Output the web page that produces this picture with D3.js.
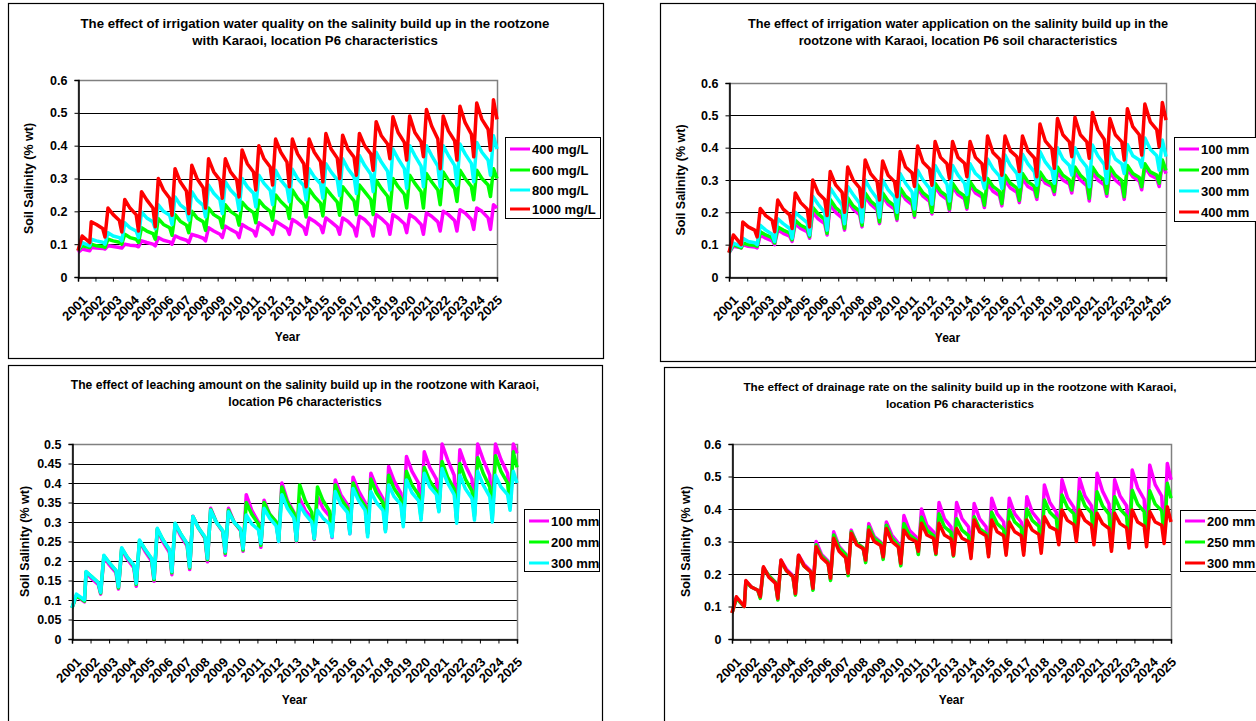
<!DOCTYPE html>
<html>
<head>
<meta charset="utf-8">
<script src="https://cdn.jsdelivr.net/npm/d3@7"></script>
<style>
  body { margin: 0; background: #fff; }
  svg { display: block; font-family: "Liberation Sans", Arial, sans-serif; }
</style>
</head>
<body>
<script>
// tick labels
const yearLabels = d3.range(2001, 2026);

// each series: [start, early, before first rise, end], then per season: peak, mid bump, late level, notch trough
// --- irrigation water quality ---
const q400Ends = [0.075, 0.085, 0.08, 0.21];
const q400Peak = [0.09,0.095,0.10,0.11,0.12,0.125,0.13,0.15,0.155,0.16,0.165,0.17,0.175,0.18,0.18,0.18,0.185,0.19,0.19,0.19,0.195,0.20,0.205,0.21,0.22];
const q400Bump = [0.088,0.093,0.097,0.105,0.112,0.118,0.125,0.14,0.145,0.15,0.155,0.16,0.165,0.17,0.168,0.17,0.175,0.178,0.18,0.18,0.185,0.19,0.195,0.20];
const q400Late = [0.087,0.09,0.095,0.10,0.107,0.112,0.118,0.13,0.135,0.14,0.142,0.148,0.15,0.155,0.152,0.15,0.155,0.16,0.162,0.16,0.168,0.172,0.175,0.18];
const q400Trough = [0.085,0.088,0.092,0.095,0.10,0.105,0.11,0.12,0.12,0.125,0.13,0.13,0.13,0.135,0.13,0.125,0.125,0.13,0.135,0.13,0.14,0.14,0.145,0.145];

const q600Ends = [0.08, 0.095, 0.09, 0.30];
const q600Peak = [0.10,0.115,0.13,0.15,0.178,0.19,0.20,0.21,0.22,0.228,0.234,0.25,0.265,0.268,0.27,0.275,0.28,0.295,0.30,0.31,0.315,0.32,0.325,0.325,0.33];
const q600Bump = [0.095,0.11,0.12,0.14,0.16,0.17,0.18,0.19,0.20,0.21,0.215,0.23,0.24,0.245,0.25,0.255,0.26,0.27,0.275,0.285,0.29,0.295,0.30,0.30];
const q600Late = [0.093,0.106,0.115,0.132,0.15,0.158,0.168,0.178,0.187,0.196,0.20,0.212,0.22,0.225,0.228,0.232,0.236,0.246,0.252,0.26,0.265,0.27,0.276,0.28];
const q600Trough = [0.09,0.10,0.105,0.115,0.127,0.135,0.142,0.15,0.158,0.165,0.173,0.178,0.183,0.186,0.188,0.19,0.19,0.20,0.21,0.21,0.22,0.23,0.235,0.245];

const q800Ends = [0.08, 0.105, 0.095, 0.39];
const q800Peak = [0.115,0.135,0.165,0.198,0.22,0.244,0.26,0.28,0.29,0.30,0.31,0.325,0.328,0.33,0.345,0.36,0.37,0.38,0.39,0.40,0.40,0.40,0.405,0.41,0.43];
const q800Bump = [0.11,0.125,0.15,0.18,0.20,0.22,0.235,0.255,0.265,0.275,0.285,0.295,0.30,0.305,0.32,0.33,0.34,0.35,0.36,0.37,0.37,0.37,0.375,0.38];
const q800Late = [0.106,0.12,0.14,0.168,0.188,0.205,0.218,0.235,0.245,0.255,0.264,0.272,0.278,0.284,0.296,0.305,0.313,0.322,0.33,0.338,0.338,0.34,0.346,0.356];
const q800Trough = [0.10,0.11,0.12,0.147,0.16,0.173,0.183,0.193,0.203,0.213,0.22,0.229,0.235,0.24,0.248,0.254,0.26,0.265,0.27,0.275,0.275,0.28,0.29,0.31];

const q1000Ends = [0.08, 0.125, 0.105, 0.48];
const q1000Peak = [0.168,0.21,0.236,0.26,0.30,0.33,0.34,0.36,0.36,0.387,0.40,0.42,0.42,0.42,0.437,0.432,0.437,0.473,0.488,0.49,0.51,0.49,0.52,0.53,0.54];
const q1000Bump = [0.16,0.19,0.21,0.235,0.265,0.29,0.30,0.32,0.32,0.345,0.36,0.38,0.375,0.38,0.39,0.39,0.40,0.43,0.44,0.44,0.46,0.445,0.47,0.48];
const q1000Late = [0.148,0.172,0.19,0.21,0.24,0.262,0.272,0.295,0.296,0.32,0.335,0.35,0.345,0.352,0.362,0.365,0.375,0.405,0.41,0.412,0.42,0.415,0.435,0.45];
const q1000Trough = [0.122,0.137,0.14,0.153,0.188,0.193,0.21,0.24,0.244,0.265,0.28,0.275,0.275,0.29,0.30,0.31,0.325,0.36,0.356,0.366,0.33,0.356,0.366,0.386];

// --- irrigation water application ---
const a100Ends = [0.075, 0.095, 0.09, 0.32];
const a100Peak = [0.10,0.13,0.145,0.165,0.20,0.225,0.235,0.25,0.25,0.265,0.275,0.28,0.28,0.285,0.29,0.30,0.305,0.315,0.325,0.325,0.325,0.325,0.335,0.34,0.35];
const a100Bump = [0.095,0.12,0.135,0.15,0.18,0.20,0.21,0.225,0.225,0.24,0.25,0.255,0.255,0.26,0.265,0.275,0.28,0.29,0.30,0.30,0.30,0.30,0.31,0.315];
const a100Late = [0.093,0.112,0.126,0.14,0.165,0.183,0.193,0.207,0.21,0.224,0.234,0.24,0.242,0.247,0.252,0.262,0.268,0.28,0.288,0.282,0.285,0.282,0.297,0.305];
const a100Trough = [0.09,0.10,0.11,0.12,0.13,0.145,0.155,0.165,0.175,0.185,0.195,0.205,0.21,0.215,0.22,0.23,0.24,0.255,0.26,0.235,0.25,0.24,0.27,0.28];

const a200Ends = [0.075, 0.10, 0.09, 0.33];
const a200Peak = [0.105,0.14,0.155,0.175,0.215,0.24,0.245,0.26,0.26,0.275,0.285,0.29,0.29,0.295,0.305,0.315,0.32,0.325,0.34,0.34,0.34,0.34,0.345,0.35,0.362];
const a200Bump = [0.10,0.13,0.145,0.16,0.195,0.215,0.22,0.235,0.235,0.25,0.26,0.265,0.265,0.27,0.28,0.29,0.295,0.30,0.315,0.315,0.315,0.315,0.32,0.325];
const a200Late = [0.098,0.122,0.136,0.15,0.178,0.197,0.204,0.218,0.22,0.234,0.244,0.25,0.251,0.257,0.265,0.275,0.28,0.287,0.30,0.296,0.30,0.298,0.308,0.315];
const a200Trough = [0.095,0.105,0.115,0.125,0.135,0.15,0.16,0.17,0.18,0.19,0.20,0.21,0.215,0.222,0.227,0.237,0.248,0.264,0.269,0.243,0.258,0.248,0.279,0.29];

const a300Ends = [0.075, 0.105, 0.095, 0.372];
const a300Peak = [0.12,0.16,0.18,0.20,0.25,0.275,0.28,0.30,0.30,0.32,0.33,0.345,0.345,0.35,0.365,0.377,0.38,0.388,0.40,0.40,0.408,0.40,0.41,0.43,0.424];
const a300Bump = [0.11,0.145,0.165,0.185,0.225,0.25,0.255,0.27,0.27,0.29,0.30,0.315,0.315,0.32,0.335,0.345,0.35,0.355,0.365,0.365,0.375,0.365,0.375,0.395];
const a300Late = [0.106,0.132,0.15,0.168,0.20,0.222,0.228,0.243,0.247,0.263,0.274,0.287,0.29,0.302,0.312,0.32,0.325,0.33,0.345,0.34,0.348,0.35,0.362,0.375];
const a300Trough = [0.10,0.11,0.12,0.13,0.145,0.165,0.17,0.185,0.20,0.21,0.225,0.235,0.255,0.274,0.274,0.279,0.284,0.29,0.315,0.279,0.29,0.32,0.34,0.33];

const a400Ends = [0.075, 0.13, 0.10, 0.485];
const a400Peak = [0.17,0.212,0.238,0.26,0.30,0.326,0.34,0.362,0.359,0.388,0.405,0.419,0.419,0.419,0.436,0.436,0.436,0.473,0.49,0.494,0.509,0.49,0.52,0.535,0.54];
const a400Bump = [0.155,0.19,0.21,0.23,0.26,0.285,0.30,0.32,0.315,0.34,0.355,0.37,0.37,0.37,0.385,0.39,0.39,0.42,0.44,0.44,0.455,0.44,0.465,0.48];
const a400Late = [0.145,0.175,0.192,0.21,0.24,0.262,0.276,0.296,0.295,0.322,0.335,0.35,0.352,0.35,0.365,0.372,0.368,0.396,0.418,0.418,0.425,0.418,0.44,0.456];
const a400Trough = [0.124,0.14,0.15,0.155,0.19,0.20,0.217,0.238,0.248,0.28,0.284,0.305,0.31,0.30,0.315,0.326,0.31,0.336,0.372,0.367,0.336,0.362,0.377,0.403];

// --- leaching amount ---
const l100Ends = [0.08, 0.11, 0.095, 0.476];
const l100Peak = [0.17,0.21,0.23,0.25,0.28,0.295,0.315,0.335,0.335,0.37,0.356,0.40,0.36,0.365,0.408,0.415,0.425,0.442,0.468,0.48,0.50,0.485,0.50,0.50,0.50];
const l100Bump = [0.155,0.19,0.205,0.225,0.25,0.265,0.285,0.30,0.30,0.33,0.32,0.355,0.33,0.335,0.37,0.38,0.39,0.405,0.43,0.44,0.46,0.445,0.46,0.46];
const l100Late = [0.14,0.17,0.183,0.20,0.222,0.238,0.258,0.275,0.278,0.30,0.30,0.325,0.31,0.315,0.345,0.35,0.36,0.375,0.40,0.41,0.42,0.41,0.42,0.425];
const l100Trough = [0.115,0.128,0.135,0.148,0.165,0.178,0.198,0.215,0.225,0.235,0.25,0.25,0.255,0.26,0.27,0.27,0.28,0.30,0.315,0.33,0.31,0.32,0.32,0.34];

const l200Ends = [0.08, 0.112, 0.097, 0.44];
const l200Peak = [0.172,0.213,0.232,0.252,0.282,0.296,0.314,0.332,0.33,0.35,0.35,0.39,0.395,0.39,0.395,0.40,0.41,0.42,0.43,0.44,0.455,0.45,0.465,0.47,0.48];
const l200Bump = [0.16,0.195,0.21,0.23,0.255,0.27,0.285,0.30,0.30,0.32,0.32,0.35,0.355,0.355,0.36,0.365,0.375,0.385,0.395,0.405,0.415,0.41,0.425,0.43];
const l200Late = [0.145,0.175,0.188,0.205,0.228,0.243,0.26,0.277,0.28,0.295,0.30,0.322,0.325,0.328,0.335,0.34,0.35,0.36,0.37,0.38,0.385,0.38,0.39,0.40];
const l200Trough = [0.118,0.131,0.14,0.152,0.17,0.182,0.203,0.22,0.228,0.24,0.252,0.252,0.257,0.265,0.275,0.27,0.28,0.295,0.31,0.33,0.305,0.315,0.31,0.34];

const l300Ends = [0.08, 0.115, 0.10, 0.40];
const l300Peak = [0.173,0.215,0.234,0.254,0.284,0.297,0.314,0.33,0.326,0.318,0.335,0.37,0.344,0.33,0.378,0.386,0.378,0.395,0.408,0.425,0.437,0.42,0.43,0.42,0.43];
const l300Bump = [0.16,0.195,0.21,0.23,0.255,0.27,0.285,0.30,0.30,0.295,0.31,0.335,0.32,0.31,0.345,0.355,0.35,0.365,0.375,0.39,0.40,0.385,0.395,0.39];
const l300Late = [0.145,0.176,0.19,0.207,0.23,0.245,0.262,0.278,0.282,0.28,0.29,0.31,0.30,0.295,0.325,0.33,0.33,0.345,0.355,0.37,0.37,0.36,0.365,0.37];
const l300Trough = [0.12,0.134,0.143,0.156,0.173,0.185,0.207,0.224,0.232,0.245,0.25,0.254,0.258,0.262,0.27,0.262,0.275,0.288,0.305,0.326,0.297,0.305,0.30,0.33];

// --- drainage rate ---
const d200Ends = [0.08, 0.125, 0.10, 0.49];
const d200Peak = [0.178,0.22,0.242,0.258,0.30,0.33,0.335,0.355,0.36,0.38,0.40,0.42,0.42,0.417,0.433,0.433,0.438,0.474,0.49,0.494,0.51,0.49,0.52,0.535,0.54];
const d200Bump = [0.16,0.195,0.215,0.23,0.26,0.285,0.295,0.315,0.32,0.335,0.35,0.37,0.37,0.37,0.385,0.385,0.39,0.42,0.435,0.44,0.455,0.44,0.465,0.475];
const d200Late = [0.15,0.175,0.195,0.21,0.24,0.262,0.28,0.298,0.295,0.315,0.33,0.345,0.345,0.345,0.36,0.36,0.365,0.39,0.405,0.41,0.415,0.41,0.43,0.44];
const d200Trough = [0.128,0.122,0.137,0.152,0.182,0.197,0.238,0.248,0.228,0.262,0.262,0.258,0.258,0.262,0.268,0.272,0.278,0.305,0.315,0.305,0.285,0.295,0.305,0.315];

const d250Ends = [0.08, 0.125, 0.10, 0.433];
const d250Peak = [0.175,0.218,0.24,0.255,0.29,0.32,0.33,0.345,0.35,0.355,0.375,0.385,0.37,0.376,0.39,0.397,0.40,0.428,0.443,0.453,0.453,0.438,0.458,0.456,0.479];
const d250Bump = [0.16,0.195,0.21,0.225,0.255,0.28,0.295,0.31,0.31,0.32,0.335,0.345,0.335,0.34,0.355,0.36,0.365,0.39,0.405,0.41,0.41,0.40,0.415,0.415];
const d250Late = [0.15,0.175,0.192,0.207,0.236,0.26,0.28,0.295,0.288,0.305,0.318,0.328,0.318,0.324,0.337,0.342,0.347,0.37,0.385,0.388,0.384,0.378,0.392,0.395];
const d250Trough = [0.125,0.12,0.135,0.15,0.18,0.195,0.235,0.245,0.225,0.26,0.26,0.255,0.255,0.26,0.265,0.27,0.275,0.30,0.31,0.30,0.28,0.29,0.30,0.31];

const d300Ends = [0.08, 0.13, 0.10, 0.36];
const d300Peak = [0.18,0.222,0.243,0.258,0.284,0.31,0.325,0.335,0.34,0.335,0.356,0.356,0.34,0.366,0.366,0.36,0.366,0.376,0.397,0.397,0.387,0.387,0.397,0.392,0.407];
const d300Bump = [0.16,0.19,0.21,0.225,0.25,0.27,0.29,0.30,0.30,0.31,0.32,0.32,0.31,0.33,0.33,0.33,0.335,0.345,0.365,0.365,0.355,0.355,0.36,0.36];
const d300Late = [0.15,0.172,0.192,0.207,0.232,0.25,0.278,0.288,0.283,0.30,0.31,0.308,0.30,0.318,0.318,0.318,0.322,0.335,0.352,0.35,0.34,0.342,0.348,0.35];
const d300Trough = [0.13,0.125,0.14,0.156,0.187,0.202,0.243,0.253,0.233,0.27,0.264,0.258,0.248,0.253,0.258,0.258,0.264,0.29,0.30,0.29,0.27,0.28,0.284,0.294];

const MAGENTA = '#ff00ff', GREEN = '#00ff00', CYAN = '#00ffff', RED = '#ff0000';

const panels = [
  {
    box: [8, 3, 603, 358], plot: [78, 80, 497, 277], ymax: 0.6, ystep: 0.1,
    title: ['The effect of irrigation water quality on the salinity build up in the rootzone',
            'with Karaoi, location P6 characteristics'],
    titleX: 315, titleY: 28, titleSize: 13.2, yTitleX: 33, yearY: 341,
    legend: { x: 505, y: 137, w: 95, h: 81, rows: [149, 170, 190, 209] },
    series: [
      { name: '400 mg/L', color: MAGENTA, ends: q400Ends, peak: q400Peak, bump: q400Bump, late: q400Late, trough: q400Trough },
      { name: '600 mg/L', color: GREEN, ends: q600Ends, peak: q600Peak, bump: q600Bump, late: q600Late, trough: q600Trough },
      { name: '800 mg/L', color: CYAN, ends: q800Ends, peak: q800Peak, bump: q800Bump, late: q800Late, trough: q800Trough },
      { name: '1000 mg/L', color: RED, ends: q1000Ends, peak: q1000Peak, bump: q1000Bump, late: q1000Late, trough: q1000Trough }
    ]
  },
  {
    box: [660, 3, 1255, 361], plot: [729, 83, 1166, 277], ymax: 0.6, ystep: 0.1,
    title: ['The effect of irrigation water application on the salinity build up in the',
            'rootzone with Karaoi, location P6 soil characteristics'],
    titleX: 958, titleY: 28, titleSize: 12.7, yTitleX: 685, yearY: 342,
    legend: { x: 1174, y: 137, w: 90, h: 84, rows: [149, 170, 191, 212] },
    series: [
      { name: '100 mm', color: MAGENTA, ends: a100Ends, peak: a100Peak, bump: a100Bump, late: a100Late, trough: a100Trough },
      { name: '200 mm', color: GREEN, ends: a200Ends, peak: a200Peak, bump: a200Bump, late: a200Late, trough: a200Trough },
      { name: '300 mm', color: CYAN, ends: a300Ends, peak: a300Peak, bump: a300Bump, late: a300Late, trough: a300Trough },
      { name: '400 mm', color: RED, ends: a400Ends, peak: a400Peak, bump: a400Bump, late: a400Late, trough: a400Trough }
    ]
  },
  {
    box: [8, 365, 602, 740], plot: [72, 444, 517, 639], ymax: 0.5, ystep: 0.05,
    title: ['The effect of leaching amount on the salinity build up in the rootzone with Karaoi,',
            'location P6 characteristics'],
    titleX: 305, titleY: 389, titleSize: 12.1, yTitleX: 29, yearY: 704,
    legend: { x: 524, y: 509, w: 75, h: 62, rows: [521, 542, 563] },
    series: [
      { name: '100 mm', color: MAGENTA, ends: l100Ends, peak: l100Peak, bump: l100Bump, late: l100Late, trough: l100Trough },
      { name: '200 mm', color: GREEN, ends: l200Ends, peak: l200Peak, bump: l200Bump, late: l200Late, trough: l200Trough },
      { name: '300 mm', color: CYAN, ends: l300Ends, peak: l300Peak, bump: l300Bump, late: l300Late, trough: l300Trough }
    ]
  },
  {
    box: [664, 367, 1260, 740], plot: [732, 444, 1171, 639], ymax: 0.6, ystep: 0.1,
    title: ['The effect of drainage rate on the salinity build up in the rootzone with Karaoi,',
            'location P6 characteristics'],
    titleX: 960, titleY: 391, titleSize: 11.7, yTitleX: 690, yearY: 704,
    legend: { x: 1180, y: 510, w: 85, h: 61, rows: [521, 542, 563] },
    series: [
      { name: '200 mm', color: MAGENTA, ends: d200Ends, peak: d200Peak, bump: d200Bump, late: d200Late, trough: d200Trough },
      { name: '250 mm', color: GREEN, ends: d250Ends, peak: d250Peak, bump: d250Bump, late: d250Late, trough: d250Trough },
      { name: '300 mm', color: RED, ends: d300Ends, peak: d300Peak, bump: d300Bump, late: d300Late, trough: d300Trough }
    ]
  }
];

const seasons = 25;

// season j rises at j + 0.75: peak, mid-season bump, late level, then a sharp notch before the next rise
function seasonPoints(s) {
  const pts = [{ t: 0, v: s.ends[0] }, { t: 0.25, v: s.ends[1] }, { t: 0.70, v: s.ends[2] }];
  s.peak.forEach((p, j) => {
    const tj = j + 0.75;
    pts.push({ t: tj + 0.04, v: p });
    if (j < s.trough.length) {
      pts.push({ t: tj + 0.35, v: s.bump[j] });
      pts.push({ t: tj + 0.72, v: s.late[j] });
      pts.push({ t: tj + 0.86, v: s.trough[j] });
    }
  });
  pts.push({ t: seasons, v: s.ends[3] });
  return pts;
}

const svg = d3.select('body').append('svg')
  .attr('width', 1256)
  .attr('height', 721);

const fmt = d => d === 0 ? '0' : String(+d.toFixed(2));

panels.forEach(cfg => {
  const [bx0, by0, bx1, by1] = cfg.box;
  const [px0, py0, px1, py1] = cfg.plot;
  const g = svg.append('g');

  g.append('rect')
    .attr('x', bx0 + 0.5).attr('y', by0 + 0.5)
    .attr('width', bx1 - bx0).attr('height', by1 - by0)
    .attr('fill', '#fff').attr('stroke', '#000').attr('stroke-width', 1.2);

  const x = d3.scaleLinear().domain([0, seasons]).range([px0, px1]);
  const xYear = d3.scaleLinear().domain([2001, 2025]).range([px0, px1]);
  const xLabel = d3.scaleLinear().domain([2001, 2025]).range([px0 + 4, px1]);
  const y = d3.scaleLinear().domain([0, cfg.ymax]).range([py1, py0]);
  const yTicks = d3.range(0, cfg.ymax + 1e-9, cfg.ystep).map(v => +v.toFixed(2));

  // gridlines
  g.selectAll('.grid')
    .data(yTicks.filter(v => v > 0 && v < cfg.ymax - 1e-9))
    .enter().append('line')
      .attr('x1', px0).attr('x2', px1)
      .attr('y1', d => Math.round(y(d)) + 0.5).attr('y2', d => Math.round(y(d)) + 0.5)
      .attr('stroke', '#000').attr('stroke-width', 1);

  // plot frame
  g.append('rect')
    .attr('x', px0 + 0.5).attr('y', py0 + 0.5)
    .attr('width', px1 - px0).attr('height', py1 - py0)
    .attr('fill', 'none').attr('stroke', '#808080').attr('stroke-width', 1.5);

  // series lines
  const line = d3.line().x(d => x(d.t)).y(d => y(d.v));
  cfg.series.forEach(s => {
    g.append('path')
      .datum(seasonPoints(s))
      .attr('d', line)
      .attr('fill', 'none')
      .attr('stroke', s.color)
      .attr('stroke-width', 3.5)
      .attr('stroke-linejoin', 'round');
  });

  // y axis
  const yAxis = g.append('g')
    .attr('transform', `translate(${px0 + 0.5},0)`)
    .call(d3.axisLeft(y).tickValues(yTicks).tickSize(4).tickPadding(7).tickFormat(fmt));
  yAxis.select('.domain').attr('stroke', '#000').attr('stroke-width', 1.5);
  yAxis.selectAll('text')
    .attr('font-size', 12.5).attr('font-weight', 'bold')
    .attr('font-family', '"Liberation Sans", Arial, sans-serif').attr('fill', '#000');

  // x axis
  const xAxis = g.append('g')
    .attr('transform', `translate(0,${py1 + 0.5})`)
    .call(d3.axisBottom(xYear).tickValues(yearLabels).tickSize(4).tickFormat(''));
  xAxis.select('.domain').attr('stroke', '#000').attr('stroke-width', 1.5);

  g.selectAll('.year')
    .data(yearLabels)
    .enter().append('text')
      .attr('transform', d => `translate(${xLabel(d) + 6},${py1 + 24}) rotate(-45)`)
      .attr('text-anchor', 'end')
      .attr('font-size', 13).attr('font-weight', 'bold')
      .text(d => d);

  // titles
  g.append('text')
    .attr('x', (px0 + px1) / 2).attr('y', cfg.yearY)
    .attr('text-anchor', 'middle')
    .attr('font-size', 12).attr('font-weight', 'bold')
    .text('Year');

  g.append('text')
    .attr('transform', `translate(${cfg.yTitleX},${(py0 + py1) / 2}) rotate(-90)`)
    .attr('text-anchor', 'middle')
    .attr('font-size', 12.5).attr('font-weight', 'bold')
    .text('Soil Salinity (% wt)');

  g.selectAll('.title')
    .data(cfg.title)
    .enter().append('text')
      .attr('x', cfg.titleX).attr('y', (d, i) => cfg.titleY + i * 17)
      .attr('text-anchor', 'middle')
      .attr('font-size', cfg.titleSize).attr('font-weight', 'bold')
      .text(d => d);

  // legend
  const L = cfg.legend;
  const lg = g.append('g');
  lg.append('rect')
    .attr('x', L.x + 0.5).attr('y', L.y + 0.5)
    .attr('width', L.w).attr('height', L.h)
    .attr('fill', '#fff').attr('stroke', '#000').attr('stroke-width', 1);
  cfg.series.forEach((s, i) => {
    lg.append('line')
      .attr('x1', L.x + 5).attr('x2', L.x + 25)
      .attr('y1', L.rows[i]).attr('y2', L.rows[i])
      .attr('stroke', s.color).attr('stroke-width', 3);
    lg.append('text')
      .attr('x', L.x + 27).attr('y', L.rows[i] + 4.5)
      .attr('font-size', 13).attr('font-weight', 'bold')
      .text(s.name);
  });
});
</script>
</body>
</html>
